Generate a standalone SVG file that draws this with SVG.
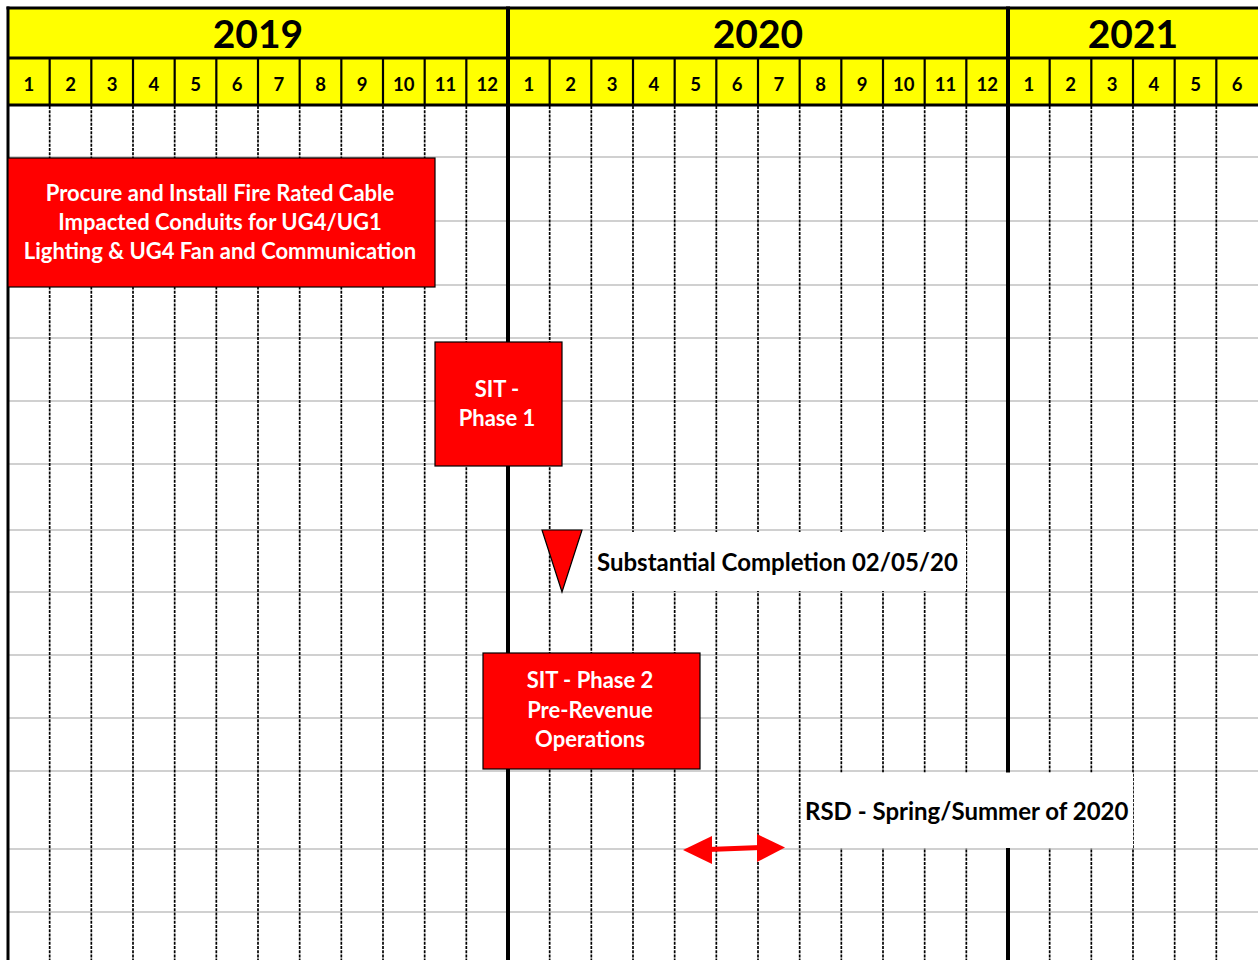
<svg xmlns="http://www.w3.org/2000/svg" width="1258" height="960" viewBox="0 0 1258 960">
<defs>
<style>
.hline{stroke:#d0d0d0;stroke-width:2}
.dash{stroke:#000;stroke-width:1.7;stroke-dasharray:3 1.2}
.yr{stroke:#000;stroke-width:4}
.hdiv{stroke:#000;stroke-width:2.2}
.hb{stroke:#000;stroke-width:3.2}
.year{font-family:Lato,"Liberation Sans",sans-serif;font-weight:bold;font-size:39px;fill:#000;text-anchor:middle}
.mon{font-family:Lato,"Liberation Sans",sans-serif;font-weight:bold;font-size:18.5px;fill:#000;text-anchor:middle}
.box{fill:#ff0000;stroke:#000;stroke-width:1.2}
.bt{font-family:Lato,"Liberation Sans",sans-serif;font-weight:bold;font-size:22px;fill:#fff;text-anchor:middle}
.lbl{font-family:Lato,"Liberation Sans",sans-serif;font-weight:bold;font-size:24px;fill:#000}
</style>
</defs>
<rect x="0" y="0" width="1258" height="960" fill="#fff"/>
<g id="grid">
<g id="hlines">
<line class="hline" x1="8" y1="157" x2="1258" y2="157"/>
<line class="hline" x1="8" y1="221" x2="1258" y2="221"/>
<line class="hline" x1="8" y1="285" x2="1258" y2="285"/>
<line class="hline" x1="8" y1="338" x2="1258" y2="338"/>
<line class="hline" x1="8" y1="401" x2="1258" y2="401"/>
<line class="hline" x1="8" y1="464" x2="1258" y2="464"/>
<line class="hline" x1="8" y1="530" x2="1258" y2="530"/>
<line class="hline" x1="8" y1="592" x2="1258" y2="592"/>
<line class="hline" x1="8" y1="655" x2="1258" y2="655"/>
<line class="hline" x1="8" y1="718" x2="1258" y2="718"/>
<line class="hline" x1="8" y1="771" x2="1258" y2="771"/>
<line class="hline" x1="8" y1="849" x2="1258" y2="849"/>
<line class="hline" x1="8" y1="912" x2="1258" y2="912"/>
</g>
<g id="vdash">
<line class="dash" x1="49.67" y1="106" x2="49.67" y2="960"/>
<line class="dash" x1="91.33" y1="106" x2="91.33" y2="960"/>
<line class="dash" x1="133" y1="106" x2="133" y2="960"/>
<line class="dash" x1="174.67" y1="106" x2="174.67" y2="960"/>
<line class="dash" x1="216.33" y1="106" x2="216.33" y2="960"/>
<line class="dash" x1="258" y1="106" x2="258" y2="960"/>
<line class="dash" x1="299.67" y1="106" x2="299.67" y2="960"/>
<line class="dash" x1="341.33" y1="106" x2="341.33" y2="960"/>
<line class="dash" x1="383" y1="106" x2="383" y2="960"/>
<line class="dash" x1="424.67" y1="106" x2="424.67" y2="960"/>
<line class="dash" x1="466.33" y1="106" x2="466.33" y2="960"/>
<line class="dash" x1="549.67" y1="106" x2="549.67" y2="960"/>
<line class="dash" x1="591.33" y1="106" x2="591.33" y2="960"/>
<line class="dash" x1="633" y1="106" x2="633" y2="960"/>
<line class="dash" x1="674.67" y1="106" x2="674.67" y2="960"/>
<line class="dash" x1="716.33" y1="106" x2="716.33" y2="960"/>
<line class="dash" x1="758" y1="106" x2="758" y2="960"/>
<line class="dash" x1="799.67" y1="106" x2="799.67" y2="960"/>
<line class="dash" x1="841.33" y1="106" x2="841.33" y2="960"/>
<line class="dash" x1="883" y1="106" x2="883" y2="960"/>
<line class="dash" x1="924.67" y1="106" x2="924.67" y2="960"/>
<line class="dash" x1="966.33" y1="106" x2="966.33" y2="960"/>
<line class="dash" x1="1049.67" y1="106" x2="1049.67" y2="960"/>
<line class="dash" x1="1091.33" y1="106" x2="1091.33" y2="960"/>
<line class="dash" x1="1133" y1="106" x2="1133" y2="960"/>
<line class="dash" x1="1174.67" y1="106" x2="1174.67" y2="960"/>
<line class="dash" x1="1216.33" y1="106" x2="1216.33" y2="960"/>
</g>
</g>
<g id="header">
<rect x="8" y="8" width="1250" height="97" fill="#ffff00"/>
<line class="hb" x1="6.5" y1="8" x2="1258" y2="8"/>
<line class="hb" x1="8" y1="58" x2="1258" y2="58"/>
<line class="hb" x1="8" y1="105" x2="1258" y2="105"/>
<line class="hdiv" x1="49.67" y1="58" x2="49.67" y2="105"/>
<line class="hdiv" x1="91.33" y1="58" x2="91.33" y2="105"/>
<line class="hdiv" x1="133" y1="58" x2="133" y2="105"/>
<line class="hdiv" x1="174.67" y1="58" x2="174.67" y2="105"/>
<line class="hdiv" x1="216.33" y1="58" x2="216.33" y2="105"/>
<line class="hdiv" x1="258" y1="58" x2="258" y2="105"/>
<line class="hdiv" x1="299.67" y1="58" x2="299.67" y2="105"/>
<line class="hdiv" x1="341.33" y1="58" x2="341.33" y2="105"/>
<line class="hdiv" x1="383" y1="58" x2="383" y2="105"/>
<line class="hdiv" x1="424.67" y1="58" x2="424.67" y2="105"/>
<line class="hdiv" x1="466.33" y1="58" x2="466.33" y2="105"/>
<line class="hdiv" x1="549.67" y1="58" x2="549.67" y2="105"/>
<line class="hdiv" x1="591.33" y1="58" x2="591.33" y2="105"/>
<line class="hdiv" x1="633" y1="58" x2="633" y2="105"/>
<line class="hdiv" x1="674.67" y1="58" x2="674.67" y2="105"/>
<line class="hdiv" x1="716.33" y1="58" x2="716.33" y2="105"/>
<line class="hdiv" x1="758" y1="58" x2="758" y2="105"/>
<line class="hdiv" x1="799.67" y1="58" x2="799.67" y2="105"/>
<line class="hdiv" x1="841.33" y1="58" x2="841.33" y2="105"/>
<line class="hdiv" x1="883" y1="58" x2="883" y2="105"/>
<line class="hdiv" x1="924.67" y1="58" x2="924.67" y2="105"/>
<line class="hdiv" x1="966.33" y1="58" x2="966.33" y2="105"/>
<line class="hdiv" x1="1049.67" y1="58" x2="1049.67" y2="105"/>
<line class="hdiv" x1="1091.33" y1="58" x2="1091.33" y2="105"/>
<line class="hdiv" x1="1133" y1="58" x2="1133" y2="105"/>
<line class="hdiv" x1="1174.67" y1="58" x2="1174.67" y2="105"/>
<line class="hdiv" x1="1216.33" y1="58" x2="1216.33" y2="105"/>
<text class="year" x="258" y="48">2019</text>
<text class="year" x="758" y="48">2020</text>
<text class="year" x="1133" y="48">2021</text>
<text class="mon" x="28.8" y="91">1</text>
<text class="mon" x="70.5" y="91">2</text>
<text class="mon" x="112.2" y="91">3</text>
<text class="mon" x="153.8" y="91">4</text>
<text class="mon" x="195.5" y="91">5</text>
<text class="mon" x="237.2" y="91">6</text>
<text class="mon" x="278.8" y="91">7</text>
<text class="mon" x="320.5" y="91">8</text>
<text class="mon" x="362.2" y="91">9</text>
<text class="mon" x="403.8" y="91">10</text>
<text class="mon" x="445.5" y="91">11</text>
<text class="mon" x="487.2" y="91">12</text>
<text class="mon" x="528.8" y="91">1</text>
<text class="mon" x="570.5" y="91">2</text>
<text class="mon" x="612.2" y="91">3</text>
<text class="mon" x="653.8" y="91">4</text>
<text class="mon" x="695.5" y="91">5</text>
<text class="mon" x="737.2" y="91">6</text>
<text class="mon" x="778.8" y="91">7</text>
<text class="mon" x="820.5" y="91">8</text>
<text class="mon" x="862.2" y="91">9</text>
<text class="mon" x="903.8" y="91">10</text>
<text class="mon" x="945.5" y="91">11</text>
<text class="mon" x="987.2" y="91">12</text>
<text class="mon" x="1028.8" y="91">1</text>
<text class="mon" x="1070.5" y="91">2</text>
<text class="mon" x="1112.2" y="91">3</text>
<text class="mon" x="1153.8" y="91">4</text>
<text class="mon" x="1195.5" y="91">5</text>
<text class="mon" x="1237.2" y="91">6</text>
</g>
<g id="frame">
<line class="yr" x1="508" y1="6.5" x2="508" y2="960"/>
<line class="yr" x1="1008" y1="6.5" x2="1008" y2="960"/>
<line stroke="#000" stroke-width="3" x1="8" y1="6.5" x2="8" y2="960"/>
</g>
<g id="task-procure">
<rect class="box" x="8" y="158" width="427" height="129"/>
<text class="bt" x="220" y="201">Procure and Install Fire Rated Cable</text>
<text class="bt" x="220" y="230">Impacted Conduits for UG4/UG1</text>
<text class="bt" x="220" y="259">Lighting &amp; UG4 Fan and Communication</text>
</g>
<g id="task-sit1">
<rect class="box" x="435" y="342" width="127" height="124"/>
<text class="bt" x="497" y="397">SIT -</text>
<text class="bt" x="497" y="426">Phase 1</text>
</g>
<g id="milestone">
<polygon points="542,530 582,530 562,592" fill="#ff0000" stroke="#000" stroke-width="1.2"/>
<rect x="593" y="532" width="373" height="59" fill="#fff"/>
<text class="lbl" x="597" y="571">Substantial Completion 02/05/20</text>
</g>
<g id="task-sit2">
<rect class="box" x="483" y="653" width="217" height="116"/>
<text class="bt" x="590" y="688">SIT - Phase 2</text>
<text class="bt" x="590" y="718">Pre-Revenue</text>
<text class="bt" x="590" y="747">Operations</text>
</g>
<g id="rsd-label">
<rect x="801" y="772.5" width="332" height="75.5" fill="#fff"/>
<text class="lbl" x="805" y="820">RSD - Spring/Summer of 2020</text>
</g>
<g id="connectors">
<line x1="708" y1="849.5" x2="761" y2="847.5" stroke="#ff0000" stroke-width="5"/>
<polygon points="683,850 712,836 712,864" fill="#ff0000"/>
<polygon points="785,847.5 757,834 757,862" fill="#ff0000"/>
</g>
</svg>
